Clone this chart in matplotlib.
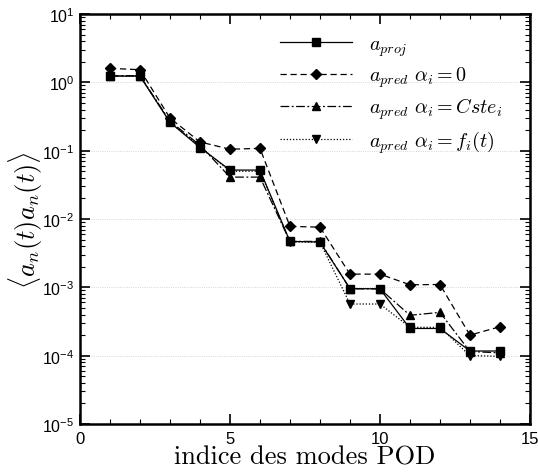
import numpy as np
import matplotlib
matplotlib.use('Agg')
import matplotlib.pyplot as plt
from matplotlib.ticker import MultipleLocator, LogLocator, FuncFormatter, NullFormatter

plt.rcParams['font.family'] = ['Liberation Sans', 'DejaVu Sans']
plt.rcParams['mathtext.fontset'] = 'custom'
plt.rcParams['mathtext.rm'] = 'Liberation Sans'
plt.rcParams['mathtext.it'] = 'Liberation Sans:italic'

modes = np.arange(1, 15)

# <a_n(t) a_n(t)> par mode
a_proj = [1.23, 1.23, 0.26, 0.111, 0.052, 0.052, 0.0047, 0.0046,
          0.00096, 0.00095, 0.00025, 0.00025, 0.000117, 0.000117]
a_pred_zero = [1.60, 1.53, 0.30, 0.134, 0.105, 0.108, 0.0078, 0.0076,
               0.00156, 0.00156, 0.00109, 0.00110, 0.00020, 0.000265]
a_pred_cste = [1.25, 1.25, 0.27, 0.12, 0.041, 0.041, 0.0047, 0.0047,
               0.00095, 0.00095, 0.00039, 0.00043, 0.000115, 0.00011]
a_pred_ft = [1.25, 1.25, 0.26, 0.115, 0.050, 0.050, 0.0046, 0.0046,
             0.00057, 0.00057, 0.00026, 0.00026, 0.000100, 0.000098]

labels = [r'$a_{proj}$',
          r'$a_{pred}\ \alpha_i = 0$',
          r'$a_{pred}\ \alpha_i = Cste_i$',
          r'$a_{pred}\ \alpha_i = f_i(t)$']

fig = plt.figure(figsize=(5.38, 4.77), dpi=100)
ax = fig.add_axes([0.1487, 0.109, 0.8363, 0.8596])

lw = 0.9
ax.plot(modes, a_proj, color='k', ls='-', lw=lw, marker='s', ms=6, label=labels[0])
ax.plot(modes, a_pred_zero, color='k', ls=(0, (5, 3)), lw=lw, marker='D', ms=5, label=labels[1])
ax.plot(modes, a_pred_cste, color='k', ls=(0, (7, 2, 1.5, 2)), lw=lw, marker='^', ms=6, label=labels[2])
ax.plot(modes, a_pred_ft, color='k', ls=(0, (1, 1.5)), lw=lw, marker='v', ms=6, label=labels[3])

ax.set_yscale('log')
ax.set_xlim(0, 15)
ax.set_ylim(1e-5, 1e1)

ax.xaxis.set_major_locator(MultipleLocator(5))
ax.xaxis.set_minor_locator(MultipleLocator(1))
ax.yaxis.set_major_locator(LogLocator(base=10, numticks=10))
ax.yaxis.set_minor_locator(LogLocator(base=10, subs=np.arange(2, 10), numticks=20))
ax.yaxis.set_minor_formatter(NullFormatter())
ax.yaxis.set_major_formatter(FuncFormatter(
    lambda v, p: r'$10^{%d}$' % int(round(np.log10(v)))))

ax.tick_params(which='both', direction='in', top=True, right=True, labelsize=12, pad=5)
ax.tick_params(which='major', length=7, width=1.2)
ax.tick_params(which='minor', length=3.5, width=0.8)
ax.tick_params(axis='y', labelsize=11.5, pad=4)
for s in ax.spines.values():
    s.set_linewidth(1.8)

ax.yaxis.grid(True, which='major', ls=':', lw=0.6, color='#c8c8c8')

ax.set_xlabel('indice des modes POD', family='cmr10', fontsize=19, labelpad=-1)
ylab = ax.set_ylabel(r'$\langle a_n(t)a_n(t)\rangle$', fontsize=19, labelpad=-2)
ylab.set_math_fontfamily('cm')

leg = ax.legend(loc='upper right', bbox_to_anchor=(0.956, 0.970), frameon=False,
                fontsize=14.5, handlelength=3.6, labelspacing=0.33,
                handletextpad=0.8, borderaxespad=0.0)
for t in leg.get_texts():
    t.set_math_fontfamily('cm')

fig.savefig('out.png', dpi=100)
